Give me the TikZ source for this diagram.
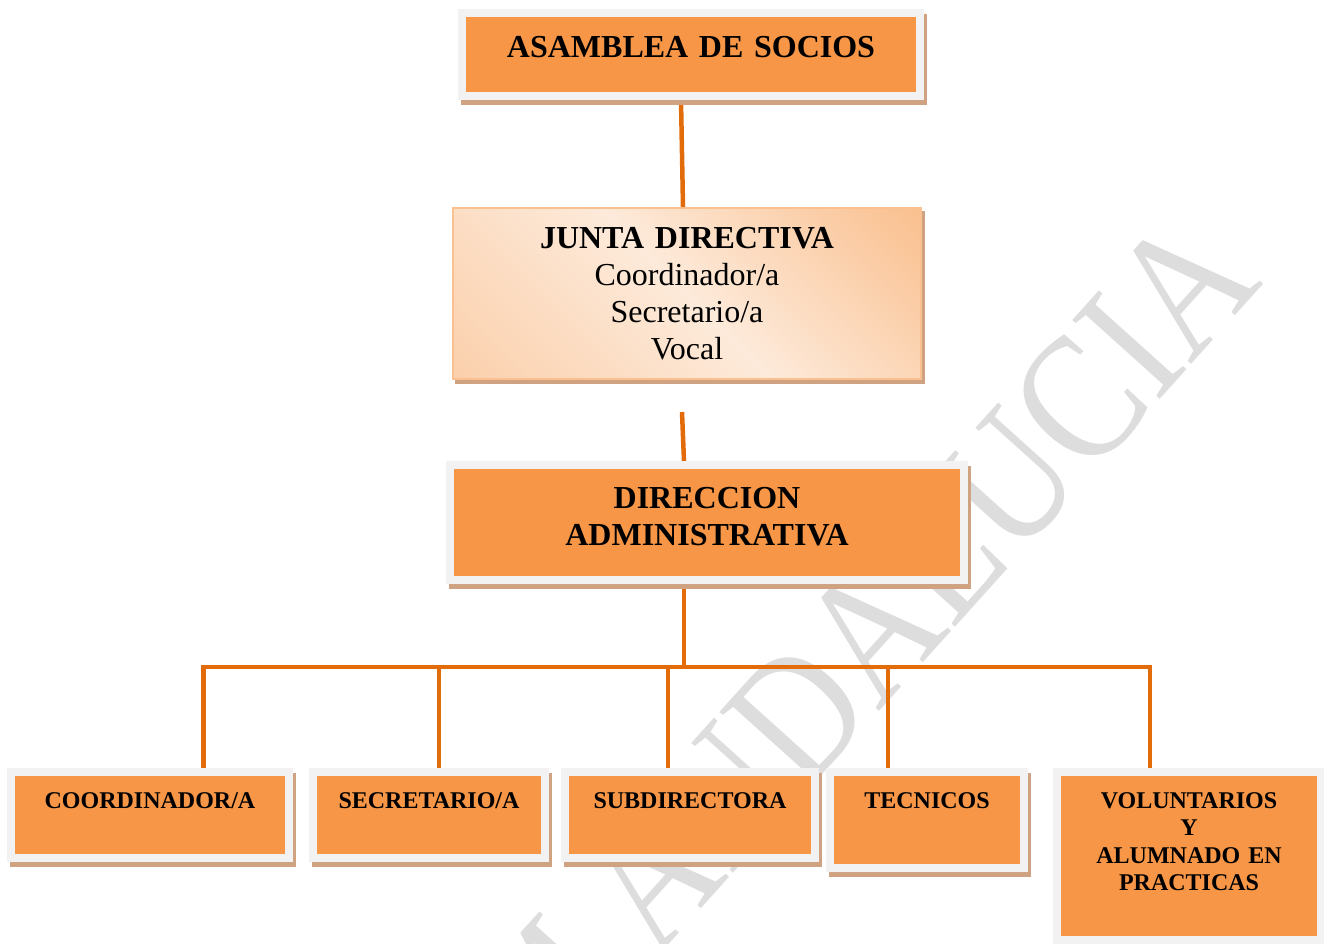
\documentclass[tikz,border=0pt]{standalone}
\usepackage{fontspec}
\setmainfont{Liberation Serif}
\usetikzlibrary{calc}
\definecolor{boxorange}{HTML}{F79646}
\definecolor{framegray}{HTML}{F2F2F2}
\definecolor{shadowtan}{HTML}{CFA282}
\definecolor{linkorange}{HTML}{E36C0A}
\definecolor{wmgray}{HTML}{DDDDDD}
\definecolor{peachdark}{HTML}{FAC08F}
\definecolor{peachmid}{HTML}{FBD0AC}
\definecolor{peachlight}{HTML}{FDEADA}
\pgfdeclarehorizontalshading{juntashade}{100bp}{color(0bp)=(peachmid); color(15bp)=(peachmid); color(50bp)=(peachlight); color(85bp)=(peachdark); color(100bp)=(peachdark)}
\pgfdeclarelayer{bg}
\pgfsetlayers{bg,main}
\tikzset{
  orgbox/.style={draw=framegray, fill=boxorange, line width=8pt, inner sep=0pt, align=center,
    preaction={fill=shadowtan, draw=shadowtan, transform canvas={xshift=3pt,yshift=-5pt}}},
  juntabox/.style={draw=peachdark, line width=2pt, shade, shading=juntashade, shading angle=45,
    inner sep=0pt, align=center,
    preaction={fill=shadowtan, draw=shadowtan, transform canvas={xshift=3pt,yshift=-4pt}}},
  bigtext/.style={font=\fontsize{32}{37}\selectfont\bfseries},
  plaintext/.style={font=\fontsize{32}{37}\selectfont},
  smalltext/.style={font=\fontsize{24}{27.5}\selectfont\bfseries},
  link/.style={draw=linkorange, line width=4.5pt},
  watermark/.style={text=wmgray, inner sep=0pt, anchor=base east, rotate=48,
    font=\fontsize{180}{180}\selectfont},
}
\begin{document}
\begin{tikzpicture}[x=1pt,y=-1pt]
\useasboundingbox (0,0) rectangle (1324,944);

\node[orgbox, bigtext, text width=458pt, text height=44.5pt, text depth=38.5pt]
  (asamblea) at (691,54.5) {ASAMBLEA DE SOCIOS};
\node[juntabox, plaintext, text width=468pt, text height=40.5pt, text depth=130.5pt]
  (junta) at (687,293.5) {\textbf{JUNTA DIRECTIVA}\\Coordinador/a\\Secretario/a\\Vocal};
\node[orgbox, bigtext, text width=514pt, text height=43.5pt, text depth=71.5pt]
  (direc) at (707,522.5) {DIRECCION\\ADMINISTRATIVA};

\node[orgbox, smalltext, text width=278pt, text height=36pt, text depth=50pt]
  (coord) at (150,815) {COORDINADOR/A};
\node[orgbox, smalltext, text width=232pt, text height=36pt, text depth=50pt]
  (secre) at (429,815) {SECRETARIO/A};
\node[orgbox, smalltext, text width=250pt, text height=36pt, text depth=50pt]
  (subdir) at (690,815) {SUBDIRECTORA};
\node[orgbox, smalltext, text width=194pt, text height=36pt, text depth=60pt]
  (tecn) at (927,820) {TECNICOS};
\node[orgbox, smalltext, text width=264pt, text height=36pt, text depth=132pt]
  (volun) at (1189,856) {VOLUNTARIOS\\Y\\ALUMNADO EN\\PRACTICAS};

\begin{pgfonlayer}{bg}
  \node[watermark] (wm) at (1265,283) {\scalebox{0.85}[1]{M ANDALUCIA}};
  \draw[link] ([xshift=-10pt]asamblea.south) -- ([xshift=-4pt]junta.north);
  \coordinate (c2top) at ($(junta.south)+(-5,32)$);
  \draw[link] (c2top) -- ([xshift=-23pt]direc.north);
  \coordinate (d0) at ([xshift=-23pt]direc.south);
  \coordinate (busY) at (0,667);
  \coordinate (t1) at ([xshift=53.5pt]coord.north);
  \coordinate (t2) at ([xshift=10pt]secre.north);
  \coordinate (t3) at ([xshift=-22pt]subdir.north);
  \coordinate (t4) at ([xshift=-39pt]tecn.north);
  \coordinate (t5) at ([xshift=-39pt]volun.north);
  \draw[link] (d0) -- (d0 |- busY);
  \draw[link] (t1) -- (t1 |- busY) -- (t5 |- busY) -- (t5);
  \draw[link] (t2) -- (t2 |- busY);
  \draw[link] (t3) -- (t3 |- busY);
  \draw[link] (t4) -- (t4 |- busY);
\end{pgfonlayer}
\end{tikzpicture}
\end{document}
